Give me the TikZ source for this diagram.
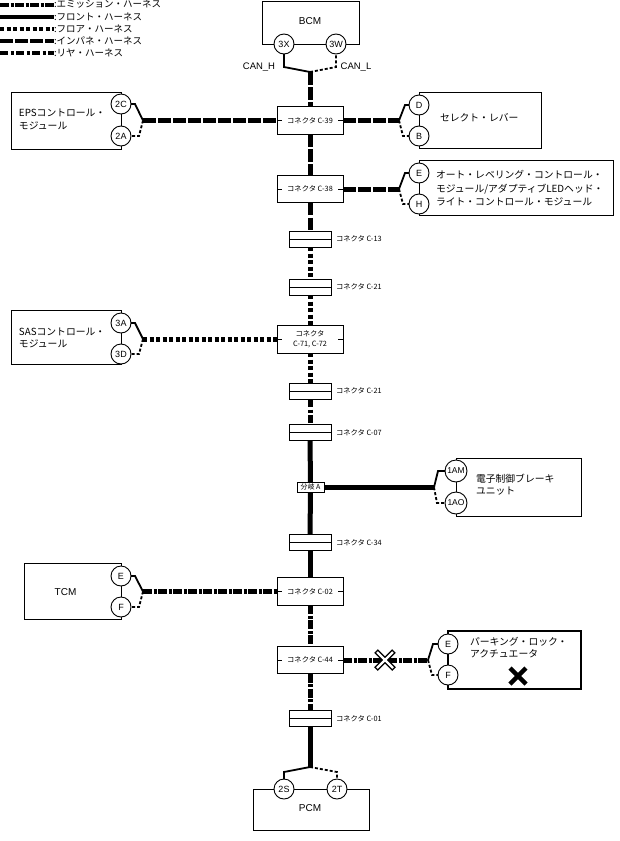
\documentclass[tikz,border=0pt]{standalone}
\usepackage{fontspec}
\setmainfont{Noto Sans CJK JP}
\newfontfamily\lat{Liberation Sans}
\begin{document}
\begin{tikzpicture}[x=1pt,y=-1pt,
  every node/.style={inner sep=0pt, outer sep=0pt},
  box/.style={draw, line width=0.9pt, fill=white},
  conn/.style={draw, line width=0.9pt, fill=white, minimum width=66pt, minimum height=27.5pt, align=center, font=\fontsize{7.3}{10.3}\selectfont},
  inl/.style={draw, line width=0.9pt, fill=white, minimum width=42pt, minimum height=16pt},
  clab/.style={anchor=west, font=\fontsize{7.3}{9}\selectfont},
  pinc/.style={circle, draw, line width=0.9pt, fill=white, minimum size=20pt, font=\lat\fontsize{9}{10}\selectfont},
  hw/.style={line width=5pt},
  hinst/.style={hw, dash pattern=on 12.5pt off 2.5pt},
  hfloor/.style={hw, dash pattern=on 4pt off 2.5pt},
  hrear/.style={hw, dash pattern=on 8pt off 2.5pt on 3pt off 2.5pt},
  hemis/.style={hw, dash pattern=on 9pt off 1.5pt on 3pt off 1.5pt},
  hfront/.style={hw},
  wsolid/.style={line width=1.8pt},
  wdash/.style={line width=1.8pt, dash pattern=on 3pt off 2pt},
  mlab/.style={anchor=west, align=left, font=\fontsize{9.8}{12.5}\selectfont},
  latlab/.style={font=\lat\fontsize{10}{12}\selectfont},
  leglab/.style={anchor=west, font=\fontsize{9.5}{11}\selectfont},
  tick/.style={line width=0.8pt},
]
\fill[white] (0,0) rectangle (620,841);
\useasboundingbox (0,0) rectangle (620,841);

% ---------- legend ----------
\draw[hemis, line width=4pt] (0,4.5) -- (54,4.5);
\draw[hfront, line width=4pt] (0,16.5) -- (54,16.5);
\draw[hfloor, line width=4pt] (0,28.5) -- (54,28.5);
\draw[hinst, line width=4pt] (0,40.5) -- (54,40.5);
\draw[hrear, line width=4pt] (0,52.5) -- (54,52.5);
\node[leglab] (lg1) at (54,4.5) {:エミッション・ハーネス};
\node[leglab] (lg2) at (54,16.5) {:フロント・ハーネス};
\node[leglab] (lg3) at (54,28.5) {:フロア・ハーネス};
\node[leglab] (lg4) at (54,40.5) {:インパネ・ハーネス};
\node[leglab] (lg5) at (54,52.5) {:リヤ・ハーネス};

% ---------- module boxes ----------
\node[box, minimum width=97pt, minimum height=43pt] (bcm) at (310.5,22.5) {};
\node[box, minimum width=110pt, minimum height=57pt] (eps) at (66,120.5) {};
\node[box, minimum width=122pt, minimum height=56pt] (sel) at (480,120) {};
\node[box, minimum width=194pt, minimum height=55pt] (hl) at (516,187.5) {};
\node[box, minimum width=110pt, minimum height=54pt] (sas) at (66,337) {};
\node[box, minimum width=125pt, minimum height=58pt] (brk) at (518.5,487) {};
\node[box, minimum width=97pt, minimum height=56pt] (tcm) at (72.5,591) {};
\node[box, line width=2.2pt, minimum width=133pt, minimum height=58pt] (park) at (514.5,660) {};
\node[box, minimum width=116pt, minimum height=41pt] (pcm) at (311,809.5) {};

% module texts
\node[latlab] (tbcm) at (310,21) {BCM};
\node[latlab] (tpcm) at (310,808.5) {PCM};
\node[latlab] (ttcm) at (65.5,592) {TCM};
\node[mlab] (teps) at (19,119.5) {EPSコントロール・\\モジュール};
\node[mlab] (tsas) at (19,338) {SASコントロール・\\モジュール};
\node[mlab] (tsel) at (440,118) {セレクト・レバー};
\node[mlab, font=\fontsize{9.8}{13.5}\selectfont] (thl) at (436,188.5) {オート・レベリング・コントロール・\\モジュール/アダプティブLEDヘッド・\\ライト・コントロール・モジュール};
\node[mlab] (tbrk) at (476,484.5) {電子制御ブレーキ\\ユニット};
\node[mlab] (tpark) at (470,647.5) {パーキング・ロック・\\アクチュエータ};

% ---------- pins ----------
\node[pinc] (p3X) at (284,44) {3X};
\node[pinc] (p3W) at (336,44) {3W};
\node[pinc] (p2C) at (121,104) {2C};
\node[pinc] (p2A) at (121,136) {2A};
\node[pinc] (pD) at (419,105) {D};
\node[pinc] (pB) at (419,136) {B};
\node[pinc] (pE1) at (419,173) {E};
\node[pinc] (pH) at (419,204) {H};
\node[pinc] (p3A) at (121,323) {3A};
\node[pinc] (p3D) at (121,354) {3D};
\node[pinc, minimum size=22pt, font=\lat\fontsize{8.5}{10}\selectfont] (p1AM) at (456,471) {1AM};
\node[pinc, minimum size=22pt, font=\lat\fontsize{8.5}{10}\selectfont] (p1AO) at (456,503) {1AO};
\node[pinc] (pE2) at (121,576) {E};
\node[pinc] (pF2) at (121,607) {F};
\node[pinc] (pE3) at (448,644) {E};
\node[pinc] (pF3) at (448,675) {F};
\node[pinc] (p2S) at (284,789) {2S};
\node[pinc] (p2T) at (337,789) {2T};

% ---------- connectors ----------
\node[conn] (c39) at (310,120.5) {コネクタ C-39};
\node[conn] (c38) at (310,189) {コネクタ C-38};
\node[inl] (c13) at (310,239) {};
\node[inl] (c21) at (310,287) {};
\node[conn, minimum height=28pt] (c71) at (310,339) {コネクタ\\C-71, C-72};
\node[inl] (c21b) at (310,391) {};
\node[inl] (c07) at (310,432.5) {};
\node[box, minimum width=27pt, minimum height=10pt, font=\fontsize{7}{8}\selectfont] (bA) at (310.5,487.3) {分岐 A};
\node[inl] (c34) at (310,542.5) {};
\node[conn] (c02) at (310,591.5) {コネクタ C-02};
\node[conn] (c44) at (310,660) {コネクタ C-44};
\node[inl] (c01) at (310,718.5) {};

\foreach \n in {c13,c21,c21b,c07,c34,c01} \draw[line width=0.9pt] (\n.west) -- (\n.east);
\foreach \n in {c39,c38,c71,c02,c44} {
  \draw[tick] (\n.west) -- ++(5,0);
  \draw[tick] (\n.east) -- ++(-5,0);
}
\node[clab] (lc13) at ([xshift=5pt]c13.east) {コネクタ C-13};
\node[clab] (lc21) at ([xshift=5pt]c21.east) {コネクタ C-21};
\node[clab] (lc21b) at ([xshift=5pt]c21b.east) {コネクタ C-21};
\node[clab] (lc07) at ([xshift=5pt]c07.east) {コネクタ C-07};
\node[clab] (lc34) at ([xshift=5pt]c34.east) {コネクタ C-34};
\node[clab] (lc01) at ([xshift=5pt]c01.east) {コネクタ C-01};

% ---------- junctions ----------
\coordinate (jbcm) at (310,72);
\coordinate (jeps) at (143,120.5);
\coordinate (jsel) at (399,120.5);
\coordinate (jhl) at (399,189);
\coordinate (jsas) at (143,339);
\coordinate (jbrk) at (434,487.3);
\coordinate (jtcm) at (143,591.5);
\coordinate (jpark) at (428,660);
\coordinate (jpcm) at (310,767);

% thin wires
\draw[wsolid] (p3X.south) -- (284,67) -- (jbcm);
\draw[wdash] (jbcm) -- (336,67) -- (p3W.south);
\node[latlab, font=\lat\fontsize{9.5}{11}\selectfont] (lcanh) at (259,67) {CAN\_H};
\node[latlab, font=\lat\fontsize{9.5}{11}\selectfont] (lcanl) at (356,67) {CAN\_L};

\draw[wsolid] (p2C.east) -- (135,104) -- (jeps);
\draw[wdash] (jeps) -- (139,136) -- (p2A.east);
\draw[wsolid] (pD.west) -- (405,105) -- (jsel);
\draw[wdash] (jsel) -- (403,136) -- (pB.west);
\draw[wsolid] (pE1.west) -- (405,173) -- (jhl);
\draw[wdash] (jhl) -- (403,204) -- (pH.west);
\draw[wsolid] (p3A.east) -- (135,323) -- (jsas);
\draw[wdash] (jsas) -- (139,354) -- (p3D.east);
\draw[wsolid] (p1AM.west) -- (438,471) -- (jbrk);
\draw[wdash] (jbrk) -- (437,503) -- (p1AO.west);
\draw[wsolid] (pE2.east) -- (135,576) -- (jtcm);
\draw[wdash] (jtcm) -- (139,607) -- (pF2.east);
\draw[wsolid] (pE3.west) -- (433,644) -- (jpark);
\draw[wdash] (jpark) -- (432,675) -- (pF3.west);
\draw[wsolid] (p2S.north) -- (284,772) -- (jpcm);
\draw[wdash] (jpcm) -- (337,772) -- (p2T.north);

% harness branches
\draw[hinst] (jeps) -- (c39.west);
\draw[hinst] (c39.east) -- (jsel);
\draw[hinst] (c38.east) -- (jhl);
\draw[hfloor] (jsas) -- (c71.west);
\draw[hfront] (bA.east) -- (jbrk);
\draw[hemis] (jtcm) -- (c02.west);
\draw[hemis] (c44.east) -- (jpark);

% trunk
\draw[hinst] (jbcm) -- (c39.north);
\draw[hinst] (c39.south) -- (c38.north);
\draw[hinst] (c38.south) -- (c13.north);
\draw[hfloor] (c13.south) -- (c21.north);
\draw[hfloor] (c21.south) -- (c71.north);
\draw[hfloor] (c71.south) -- (c21b.north);
\draw[hrear] (c21b.south) -- (c07.north);
\draw[hfront] (c07.south) -- (bA.north);
\draw[hfront] (bA.south) -- (c34.north);
\draw[hfront] (c34.south) -- (c02.north);
\draw[hemis] (c02.south) -- (c44.north);
\draw[hemis] (c44.south) -- (c01.north);
\draw[hfront] (c01.south) -- (jpcm);

% break mark on C-44 branch
\coordinate (brkmk) at (385,660);
\draw[line width=5pt] ([shift={(-9,-9)}]brkmk) -- ([shift={(9,9)}]brkmk)
                      ([shift={(-9,9)}]brkmk) -- ([shift={(9,-9)}]brkmk);
\draw[white, line width=2.4pt] ([shift={(-8,-8)}]brkmk) -- ([shift={(8,8)}]brkmk)
                      ([shift={(-8,8)}]brkmk) -- ([shift={(8,-8)}]brkmk);

% fault mark in parking actuator
\coordinate (xmk) at (518,676);
\draw[line width=4.5pt] ([shift={(-8,-8)}]xmk) -- ([shift={(8,8)}]xmk)
                        ([shift={(-8,8)}]xmk) -- ([shift={(8,-8)}]xmk);
\end{tikzpicture}
\end{document}
